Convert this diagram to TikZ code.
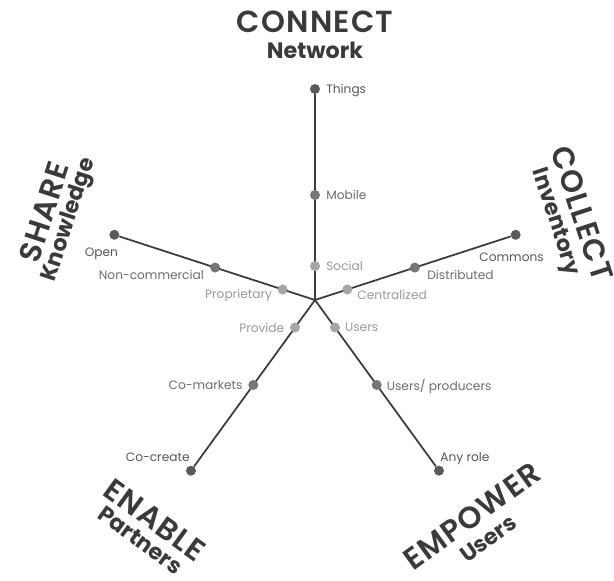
\documentclass[tikz,border=0pt]{standalone}
\usepackage{fontspec}
\setmainfont{Poppins}
\newfontfamily\headfont{Poppins SemiBold}[LetterSpace=4]
\usetikzlibrary{positioning,backgrounds}

\definecolor{axiscol}{HTML}{3C3C3C}
\definecolor{outcol}{HTML}{5A5A5A}
\definecolor{midcol}{HTML}{767676}
\definecolor{incol}{HTML}{A6A6A6}
\definecolor{outtext}{HTML}{555555}
\definecolor{midtext}{HTML}{6C6C6C}
\definecolor{intext}{HTML}{999999}
\definecolor{titlecol}{HTML}{3A3A3A}

\begin{document}
\begin{tikzpicture}[x=0.03cm,y=0.03cm]
\tikzset{
    axis/.style={line width=1.5pt, color=axiscol},
    dot/.style={circle, inner sep=0pt, minimum size=0.3cm, fill=#1},
    lbl/.style={font=\fontsize{10.4}{12}\selectfont, text=#1, inner sep=1pt, text depth=0pt},
    head/.style={font=\headfont\fontsize{26}{30}\selectfont, text=titlecol, inner sep=0pt},
    subhead/.style={font=\bfseries\fontsize{19}{22}\selectfont, text=titlecol, inner sep=0pt}}
\def\rin{34}
\def\rmid{105}
\def\rout{211}

\useasboundingbox (-315,-280) rectangle (299,300);
\coordinate (C) at (0,0);

% connect
\node[dot=outcol] (things) at (90:\rout) {};
\node[dot=midcol] (mobile) at (90:\rmid) {};
\node[dot=incol] (social) at (90:\rin) {};
\node[lbl=outtext, right=4pt of things] (lthings) {Things};
\node[lbl=midtext, right=4pt of mobile] (lmobile) {Mobile};
\node[lbl=intext, right=4pt of social] (lsocial) {Social};

% collect
\node[dot=outcol] (commons) at (18:\rout) {};
\node[dot=midcol] (distributed) at (18:\rmid) {};
\node[dot=incol] (centralized) at (18:\rin) {};
\node[lbl=outtext, below=9.5pt of commons, xshift=-3.5pt] (lcommons) {Commons};
\node[lbl=midtext, right=5pt of distributed, yshift=-6pt] (ldistributed) {Distributed};
\node[lbl=intext, right=3pt of centralized, yshift=-5pt] (lcentralized) {Centralized};

% share
\node[dot=outcol] (open) at (162:\rout) {};
\node[dot=midcol] (noncomm) at (162:\rmid) {};
\node[dot=incol] (propr) at (162:\rin) {};
\node[lbl=outtext, below=5.5pt of open, xshift=-11pt] (lopen) {Open};
\node[lbl=midtext, left=4pt of noncomm, yshift=-6.5pt] (lnoncomm) {Non-commercial};
\node[lbl=intext, left=3.5pt of propr, yshift=-3.5pt] (lpropr) {Proprietary};

% enable
\node[dot=outcol] (cocreate) at (-126:\rout) {};
\node[dot=midcol] (comarkets) at (-126:\rmid) {};
\node[dot=incol] (provide) at (-126:\rin) {};
\node[lbl=outtext, anchor=south east] (lcocreate) at ([yshift=2pt]cocreate.north) {Co-create};
\node[lbl=midtext, left=3.5pt of comarkets] (lcomarkets) {Co-markets};
\node[lbl=intext, left=3.5pt of provide] (lprovide) {Provide};

% empower
\node[dot=outcol] (anyrole) at (-54:\rout) {};
\node[dot=midcol] (usrprod) at (-54:\rmid) {};
\node[dot=incol] (usr) at (-54:\rin) {};
\node[lbl=outtext, anchor=south west] (lanyrole) at ([yshift=2pt]anyrole.north) {Any role};
\node[lbl=midtext, right=3pt of usrprod] (lusrprod) {Users/ producers};
\node[lbl=intext, right=3pt of usr] (lusr) {Users};

\begin{scope}[on background layer]
\foreach \tip in {things,commons,open,cocreate,anyrole}{
    \draw[axis] (C)--(\tip);
}
\end{scope}

% titles
\node[head] (connect) at (90:278) {CONNECT};
\node[subhead] (subconnect) at (90:250) {Network};
\node[head, rotate=72] (share) at (162:285) {SHARE};
\node[subhead, rotate=72] (subshare) at (162:258) {Knowledge};
\node[head, rotate=-72] (collect) at (18:281) {COLLECT};
\node[subhead, rotate=-72] (subcollect) at (18:252) {Inventory};
\node[head, rotate=36] (empower) at (-54:267) {EMPOWER};
\node[subhead, rotate=36] (subempower) at (-54:295) {Users};
\node[head, rotate=-36] (enable) at (-126:272) {ENABLE};
\node[subhead, rotate=-36] (subenable) at (-126:297) {Partners};

\end{tikzpicture}
\end{document}
